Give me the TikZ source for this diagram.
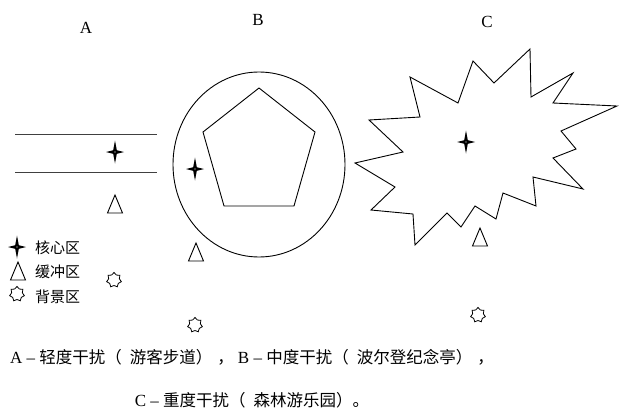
\documentclass[tikz,border=0pt]{standalone}
\usepackage{fontspec}
\setmainfont{Liberation Serif}
\newfontfamily\cjk{Noto Sans CJK SC}
\newcommand{\zh}{\cjk\fontsize{16.5}{18}\selectfont}

\tikzset{
  outline/.style={line width=0.9pt, line join=miter},
  zonelabel/.style={font=\fontsize{17}{20}\selectfont, inner sep=0pt},
  legendtext/.style={font=\cjk\fontsize{15}{18}\selectfont, anchor=west, inner sep=0pt},
  captext/.style={font=\fontsize{17}{20}\selectfont, inner sep=0pt},
  corestar/.pic={
    \fill (0,-11.5) -- (1.8,-1.8) -- (9,0) -- (1.8,1.8) -- (0,11.5)
      -- (-1.8,1.8) -- (-9,0) -- (-1.8,-1.8) -- cycle;
    \fill[white] (0,0) circle (0.7);
  },
  buffertri/.pic={\draw[outline] (0,-9) -- (7.5,9) -- (-7.5,9) -- cycle;},
  bgstar/.pic={
    \draw[line width=0.8pt, line join=miter] (270:7.5)
      \foreach \k in {1,...,13}{ -- ({270+\k*360/14}:{7.5-2*mod(\k,2)}) } -- cycle;
  },
}

\begin{document}
\begin{tikzpicture}[x=1pt, y=-1pt]
  \useasboundingbox (0,0) rectangle (619,412);

  % zone labels
  \node[zonelabel] (labA) at (86,28) {A};
  \node[zonelabel] (labB) at (258,20) {B};
  \node[zonelabel] (labC) at (487,22) {C};

  % A: visitor trail
  \draw[line width=0.8pt, black!75] (15,134) -- (157,134);
  \draw[line width=0.8pt, black!75] (15,172) -- (157,172);
  \pic at (115,152) {corestar};
  \pic at (115,204) {buffertri};
  \pic at (114,280) {bgstar};

  % B: pavilion
  \draw[outline] (259,164.5) ellipse [x radius=86, y radius=92.5];
  \draw[outline] (259,88) -- (315,132) -- (294,206) -- (224,206) -- (203,132) -- cycle;
  \pic at (195,169) {corestar};
  \pic at (196,252) {buffertri};
  \pic at (195,325) {bgstar};

  % C: amusement park
  \draw[outline] (410,77) -- (458,103) -- (473,61) -- (494,83) -- (530,49)
    -- (531,97) -- (573,73) -- (553,103) -- (617,106) -- (561,131)
    -- (576,149) -- (553,158) -- (583,189) -- (533,177) -- (536,206)
    -- (503,193) -- (496,219) -- (475,206) -- (461,227) -- (447,213)
    -- (415,245) -- (413,214) -- (371,210) -- (395,187) -- (355,163)
    -- (403,152) -- (369,120) -- (420,117) -- cycle;
  \pic at (466,142) {corestar};
  \pic at (480,237) {buffertri};
  \pic at (478,315) {bgstar};

  % legend
  \pic at (17,247) {corestar};
  \pic at (18,271) {buffertri};
  \pic at (17,294) {bgstar};
  \node[legendtext] (keyCore) at (35,248) {核心区};
  \node[legendtext] (keyBuf) at (35,272) {缓冲区};
  \node[legendtext] (keyBg) at (35,297) {背景区};

  % caption
  \node[captext] (cap1) at (252,357) {A – {\zh 轻度干扰（\hspace{8pt}游客步道）\hspace{5pt}，}\hspace{4pt}B – {\zh 中度干扰（\hspace{8pt}波尔登纪念亭）\hspace{5pt}，}};
  \node[captext] (cap2) at (252,400) {C – {\zh 重度干扰（\hspace{8pt}森林游乐园）。}};
\end{tikzpicture}
\end{document}
